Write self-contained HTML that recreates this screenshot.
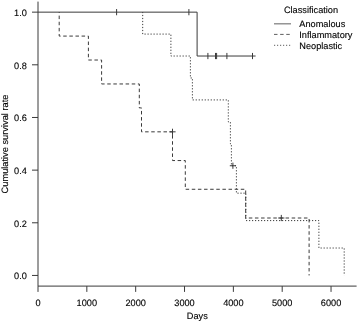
<!DOCTYPE html>
<html><head><meta charset="utf-8"><style>
html,body{margin:0;padding:0;background:#fff;}
body{width:358px;height:322px;overflow:hidden;}
svg{display:block;text-rendering:geometricPrecision;}
</style></head><body>
<svg width="358" height="322" viewBox="0 0 358 322">
<rect width="358" height="322" fill="#fff"/>
<g stroke="#3a3a3a" stroke-width="1.0" fill="none">
<path d="M38.00,1.6 V286.1 H356.6"/>
<path d="M32,275.45 H38.00"/>
<path d="M32,222.79 H38.00"/>
<path d="M32,170.13 H38.00"/>
<path d="M32,117.47 H38.00"/>
<path d="M32,64.81 H38.00"/>
<path d="M32,12.15 H38.00"/>
<path d="M38.00,286.1 V291.9"/>
<path d="M86.84,286.1 V291.9"/>
<path d="M135.68,286.1 V291.9"/>
<path d="M184.52,286.1 V291.9"/>
<path d="M233.36,286.1 V291.9"/>
<path d="M282.20,286.1 V291.9"/>
<path d="M331.04,286.1 V291.9"/>
</g>
<g font-family="'Liberation Sans', Arial, sans-serif" font-size="9.2" fill="#000" stroke="#000" stroke-width="0.12">
<text x="26.8" y="279.35" text-anchor="end">0.0</text>
<text x="26.8" y="226.69" text-anchor="end">0.2</text>
<text x="26.8" y="174.03" text-anchor="end">0.4</text>
<text x="26.8" y="121.37" text-anchor="end">0.6</text>
<text x="26.8" y="68.71" text-anchor="end">0.8</text>
<text x="26.8" y="16.05" text-anchor="end">1.0</text>
<text x="38.00" y="306.0" text-anchor="middle">0</text>
<text x="86.84" y="306.0" text-anchor="middle">1000</text>
<text x="135.68" y="306.0" text-anchor="middle">2000</text>
<text x="184.52" y="306.0" text-anchor="middle">3000</text>
<text x="233.36" y="306.0" text-anchor="middle">4000</text>
<text x="282.20" y="306.0" text-anchor="middle">5000</text>
<text x="331.04" y="306.0" text-anchor="middle">6000</text>
<text x="197.3" y="318.5" text-anchor="middle">Days</text>
<text transform="translate(8.0,144.0) rotate(-90)" text-anchor="middle" font-size="9.27">Cumulative survival rate</text>
<text x="311" y="13.0" text-anchor="middle">Classification</text>
<text x="299.3" y="27.0">Anomalous</text>
<text x="299.3" y="38.1">Inflammatory</text>
<text x="299.3" y="49.2">Neoplastic</text>
</g>
<g stroke="#3a3a3a" stroke-width="1.0" fill="none">
<path d="M38.00,12.15 H197.10 V56.03 H255.6"/>
<path d="M116.60,9.05 V15.25"/>
<path d="M188.90,9.05 V15.25"/>
<path d="M207.90,52.93 V59.13"/>
<path d="M215.50,52.93 V59.13"/>
<path d="M216.60,52.93 V59.13"/>
<path d="M226.90,52.93 V59.13"/>
<path d="M252.50,52.93 V59.13"/>
<path d="M59.20,12.15 V36.09 H88.40 V60.02 H101.60 V83.96 H139.30 V107.90 H141.50 V131.83 H172.50 V160.56 H185.30 V189.28 H245.70 V218.00 H309.10 V275.45" stroke-dasharray="3.5 2.625" stroke-dashoffset="21.030"/>
<path d="M169.40,131.83 H175.60 M172.50,128.73 V134.93"/>
<path d="M278.20,218.00 H284.40 M281.30,214.90 V221.10"/>
<path d="M142.70,12.15 V34.09 H170.90 V56.03 H190.40 V77.97 H192.40 V99.92 H228.30 V121.86 H230.40 V143.80 H231.40 V165.74 H236.40 V193.17 H245.80 V220.60 H318.90 V248.02 H344.20 V275.45" stroke-dasharray="1.2 1.800" stroke-dashoffset="105.250"/>
<path d="M229.80,165.74 H236.00 M232.90,162.64 V168.84"/>
<g stroke="#5f5f5f">
<path d="M274,23.85 H291"/>
<path d="M274,34.4 H291" stroke-dasharray="3.5 2.625"/>
<path d="M274,45.3 H291" stroke-dasharray="1.2 1.800"/>
</g>
</g>
</svg>
</body></html>
